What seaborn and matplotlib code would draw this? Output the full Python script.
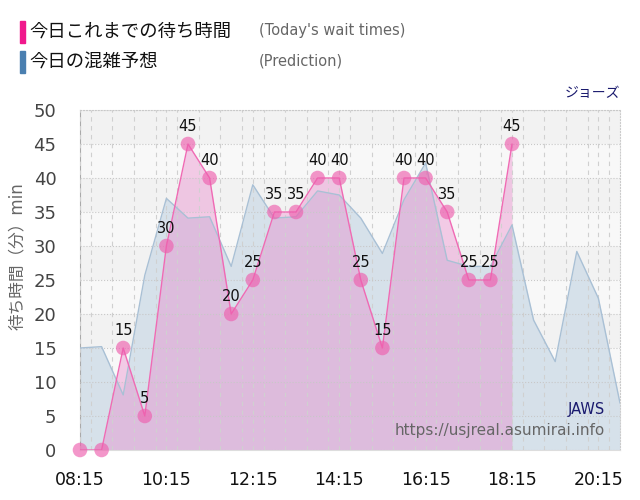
import matplotlib
matplotlib.use("Agg")
import matplotlib.pyplot as plt
import seaborn as sns
import pandas as pd
from matplotlib.ticker import MultipleLocator

# today's actual wait times (every 30 min)
wait_times = ["08:15", "08:45", "09:15", "09:45", "10:15", "10:45", "11:15",
              "11:45", "12:15", "12:45", "13:15", "13:45", "14:15", "14:45",
              "15:15", "15:45", "16:15", "16:45", "17:15", "17:45", "18:15"]
wait_values = [0, 0, 15, 5, 30, 45, 40, 20, 25, 35, 35, 40, 40, 25, 15, 40,
               40, 35, 25, 25, 45]

# prediction for the whole day
pred_times = wait_times + ["18:45", "19:15", "19:45", "20:15", "20:45"]
pred_values = [15, 15.2, 8.1, 25.7, 37, 34.1, 34.3, 27, 39, 34.1, 34.3, 38.1,
               37.5, 34.1, 28.9, 36.8, 42.2, 27.9, 27, 27, 33.1, 19.1, 13,
               29.2, 22.3, 6.9]

tick_labels = ["08:15", "10:15", "12:15", "14:15", "16:15", "18:15", "20:15"]


def to_hours(t):
    h, m = t.split(":")
    return int(h) + int(m) / 60


wait = pd.DataFrame({"t": [to_hours(t) for t in wait_times], "v": wait_values})
pred = pd.DataFrame({"t": [to_hours(t) for t in pred_times], "v": pred_values})

sns.set_style("white")
plt.rcParams["font.family"] = ["DejaVu Sans", "Noto Sans CJK JP"]

fig = plt.figure(figsize=(6.4, 5.0), dpi=100)
ax = fig.add_axes([80 / 640, 50 / 500, 540 / 640, 340 / 500])

# alternating background bands
for k in range(10):
    ax.axhspan(k * 5, k * 5 + 5, color="#f2f2f2" if k % 2 else "#f8f8f8",
               lw=0, zorder=0)

# prediction area
ax.fill_between(pred["t"], pred["v"], 0, color="#d3dfe9", alpha=0.9,
                lw=0, zorder=1.2)
sns.lineplot(data=pred, x="t", y="v", ax=ax, color="#a9c0d5", lw=1,
             zorder=3)

# today's wait times
ax.fill_between(wait["t"], wait["v"], 0, color="#ea80c8", alpha=0.38,
                lw=0, zorder=1.4)
sns.lineplot(data=wait, x="t", y="v", ax=ax, color="#f06ab4", lw=1,
             zorder=5)
sns.scatterplot(data=wait, x="t", y="v", ax=ax, color="#ee5fae", alpha=0.65,
                s=110, edgecolor="none", zorder=6, clip_on=False)

for t, v in zip(wait["t"], wait["v"]):
    if v > 0:
        ax.annotate(str(v), (t, v), xytext=(0, 7), textcoords="offset points",
                    ha="center", va="bottom", fontsize=10.5, color="#111111",
                    zorder=7)

ax.set_xlim(to_hours("08:15"), to_hours("20:45"))
ax.set_ylim(0, 50)
ax.set_xticks([to_hours(t) for t in tick_labels])
ax.set_xticklabels(tick_labels, fontsize=12.5, color="#111111")
ax.xaxis.set_minor_locator(MultipleLocator(0.5))
ax.yaxis.set_major_locator(MultipleLocator(5))
ax.tick_params(axis="y", labelsize=13, colors="#444444", length=14,
               width=1, color="#dddddd", pad=3)
ax.tick_params(axis="x", which="major", length=12, width=1,
               color="#e0e0e0", pad=3)
ax.tick_params(axis="x", which="minor", length=0)

ax.set_axisbelow(False)
ax.grid(axis="x", which="both", color="#d0d0d0", ls=(0, (4, 4)), lw=0.8)
ax.grid(axis="y", which="major", color="#c8c8c8", ls=":", lw=0.8)

for side in ["top", "right"]:
    ax.spines[side].set_color("#cccccc")
    ax.spines[side].set_linestyle(":")
ax.spines["left"].set_color("#aaaaaa")
ax.spines["bottom"].set_color("#dddddd")

ax.set_xlabel("")
ax.set_ylabel("待ち時間（分）min", fontsize=12, color="#666666")
ax.yaxis.set_label_coords(-0.1, 0.57)

# legend block at the top
fig.patches.append(plt.Rectangle((20 / 640, 1 - 43 / 500), 5 / 640, 22 / 500,
                                 transform=fig.transFigure, color="#f0198c"))
fig.patches.append(plt.Rectangle((20 / 640, 1 - 73 / 500), 5 / 640, 22 / 500,
                                 transform=fig.transFigure, color="#4a7fb0"))
fig.text(29 / 640, 1 - 32 / 500, "今日これまでの待ち時間", fontsize=13.2,
         va="center", color="#111111")
fig.text(29 / 640, 1 - 62 / 500, "今日の混雑予想", fontsize=13.2,
         va="center", color="#111111")
fig.text(259 / 640, 1 - 31 / 500, "(Today's wait times)", fontsize=10.5,
         va="center", color="#666666")
fig.text(259 / 640, 1 - 61 / 500, "(Prediction)", fontsize=10.5,
         va="center", color="#666666")

fig.text(620 / 640, 1 - 93 / 500, "ジョーズ", fontsize=10, ha="right",
         va="center", color="#1a1a6e")
ax.text(0.972, 0.118, "JAWS", transform=ax.transAxes, fontsize=10.5,
        ha="right", va="center", color="#1a1a6e", zorder=8)
ax.text(0.972, 0.058, "https://usjreal.asumirai.info", transform=ax.transAxes,
        fontsize=11, ha="right", va="center", color="#666666", zorder=8)

fig.savefig("out.png", dpi=100)
